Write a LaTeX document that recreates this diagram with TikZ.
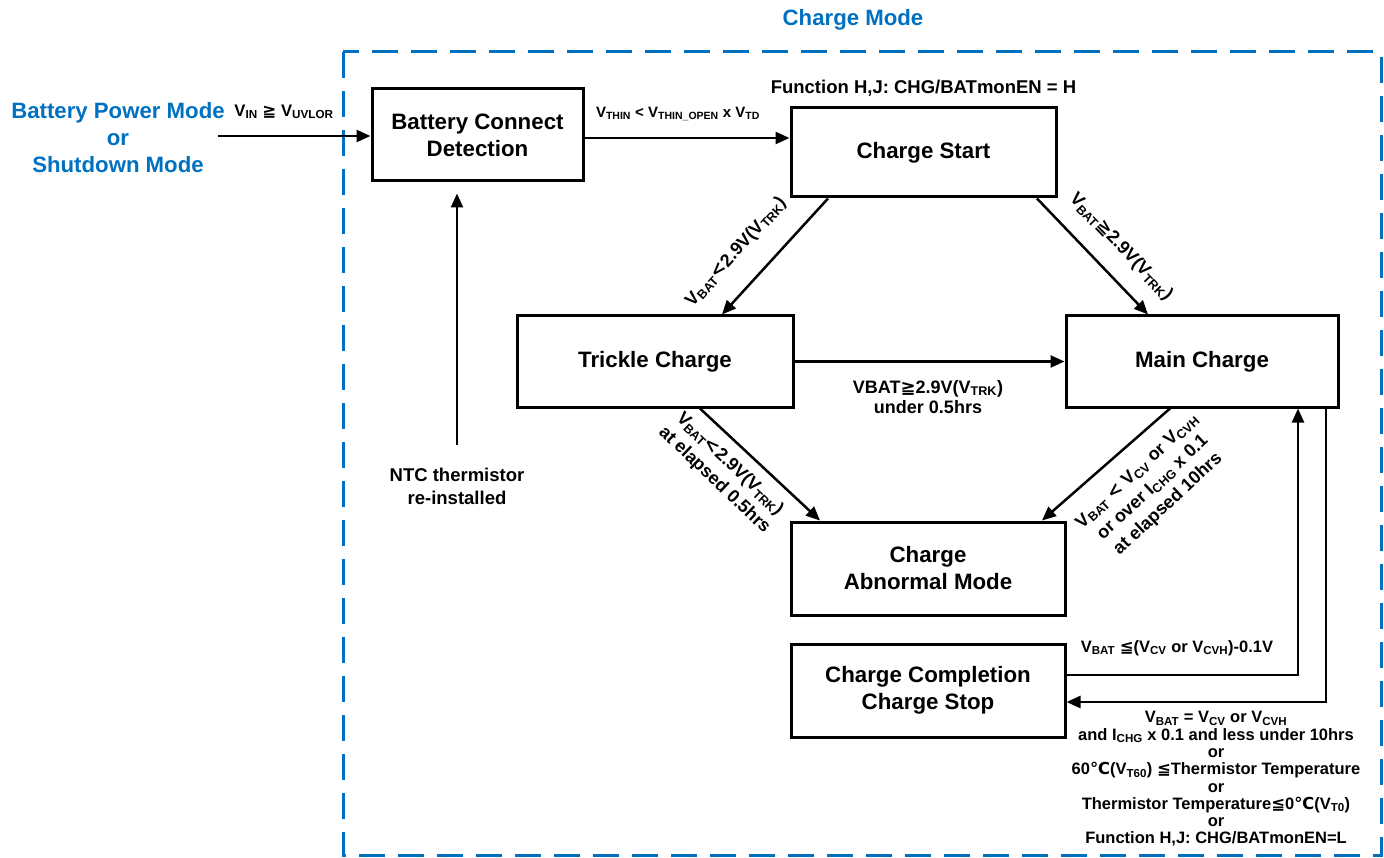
\documentclass[tikz,border=0pt]{standalone}
\usepackage{fontspec}
\setmainfont{Liberation Sans}
\newfontfamily\dejavu{DejaVu Sans}
\usetikzlibrary{arrows.meta}
\definecolor{mblue}{RGB}{0,112,192}
\newcommand\subs[1]{\textsubscript{#1}}
\newcommand\mygeq{{\dejavu\bfseries ≧}}
\newcommand\myleq{{\dejavu\bfseries ≦}}
\newcommand\mylt{{\dejavu <}}
\newcommand\degc{{\dejavu\bfseries ℃}}
\begin{document}
\begin{tikzpicture}[x=1pt,y=-1pt,
  every node/.style={font=\bfseries, inner sep=0pt},
  box/.style={draw, line width=3pt, align=center, font=\fontsize{22.3}{27}\selectfont\bfseries},
  arr/.style={line width=2.5pt, -{Triangle[length=14pt,width=12pt]}},
  lbl/.style={align=center, font=\fontsize{16.5}{17.3}\selectfont\bfseries},
  dlbl/.style={align=center, font=\fontsize{18}{22.5}\selectfont\bfseries},
  bluetxt/.style={text=mblue, align=center, font=\fontsize{22.2}{27}\selectfont\bfseries}]
\useasboundingbox (0,0) rectangle (1384,858);
% frame
\draw[mblue, line width=3pt, dash pattern=on 26pt off 13pt] (343,52) rectangle (1381,855);
\node[bluetxt] (title) at (853,20) {Charge Mode};
\node[bluetxt] (src) at (118,138) {Battery Power Mode\\or\\Shutdown Mode};
% boxes
\node[box, minimum width=211pt, minimum height=92pt] (bcd) at (477.5,135) {Battery Connect\\Detection};
\node[box, minimum width=265pt, minimum height=89pt] (cs) at (923.5,152.5) {Charge Start};
\node[box, minimum width=276pt, minimum height=91pt] (tc) at (655,361.5) {Trickle Charge};
\node[box, minimum width=272pt, minimum height=91pt] (mc) at (1202,361.5) {Main Charge};
\node[box, minimum width=274pt, minimum height=93pt] (ab) at (928,568.5) {Charge\\Abnormal Mode};
\node[box, minimum width=274pt, minimum height=93pt] (cc) at (928,690.5) {Charge Completion\\Charge Stop};
% input
\coordinate (in) at (218,136);
\draw[arr] (in) -- (in -| bcd.west);
\node[font=\fontsize{16.7}{20}\selectfont\bfseries] (vin) at (284,112) {V\subs{IN} \mygeq{} V\subs{UVLOR}};
% bcd -> cs
\draw[arr] (bcd.east |- 0,138) -- (cs.west |- 0,138);
\node[font=\fontsize{15}{18}\selectfont\bfseries] (vthin) at (678,114) {V\subs{THIN} < V\subs{THIN\_OPEN} x V\subs{TD}};
\node[font=\fontsize{18.5}{22}\selectfont\bfseries] (fn) at (923.5,88) {Function H,J: CHG/BATmonEN = H};
% ntc
\node[font=\fontsize{18.5}{23}\selectfont\bfseries, align=center] (ntc) at (457,486) {NTC thermistor\\re-installed};
\coordinate (ntctop) at (457,445);
\draw[arr, shorten >=11pt] (ntctop) -- (ntctop |- bcd.south);
% diagonals
\draw[arr] (828,0 |- cs.south) -- (722,0 |- tc.north);
\node[dlbl, rotate=48] (l1) at (736,252) {V\subs{BAT}\mylt2.9V(V\subs{TRK})};
\draw[arr] (1037,0 |- cs.south) -- (1148,0 |- mc.north);
\node[dlbl, rotate=-46] (l2) at (1121,247) {V\subs{BAT}\mygeq2.9V(V\subs{TRK})};
\draw[arr] (tc.east) -- (mc.west);
\node[dlbl, font=\fontsize{18}{20.5}\selectfont\bfseries] (l3) at (928,397) {VBAT\mygeq2.9V(V\subs{TRK})\\under 0.5hrs};
\draw[arr] (700,0 |- tc.south) -- (820,0 |- ab.north);
\node[dlbl, rotate=-43.5] (l4) at (722,472) {V\subs{BAT}\mylt2.9V(V\subs{TRK})\\at elapsed 0.5hrs};
\draw[arr] (1170,0 |- mc.south) -- (1042,0 |- ab.north);
\node[dlbl, rotate=43] (l5) at (1153,488) {V\subs{BAT} \mylt{} V\subs{CV} or V\subs{CVH}\\or over I\subs{CHG} x 0.1\\at elapsed 10hrs};
% completion loop
\coordinate (c1) at (1298,675);
\draw[arr] (cc.east |- c1) -- (c1) -- (c1 |- mc.south);
\node[lbl] (l6) at (1177,648) {V\subs{BAT} \myleq(V\subs{CV} or V\subs{CVH})-0.1V};
\coordinate (c2) at (1326,702);
\draw[arr] (c2 |- mc.south) -- (c2) -- (cc.east |- c2);
\node[lbl] (l7) at (1216,779) {V\subs{BAT} = V\subs{CV} or V\subs{CVH}\\and I\subs{CHG} x 0.1 and less under 10hrs\\or\\60\degc(V\subs{T60}) \myleq Thermistor Temperature\\or\\Thermistor Temperature\myleq0\degc(V\subs{T0})\\or\\Function H,J: CHG/BATmonEN=L};
\end{tikzpicture}
\end{document}
